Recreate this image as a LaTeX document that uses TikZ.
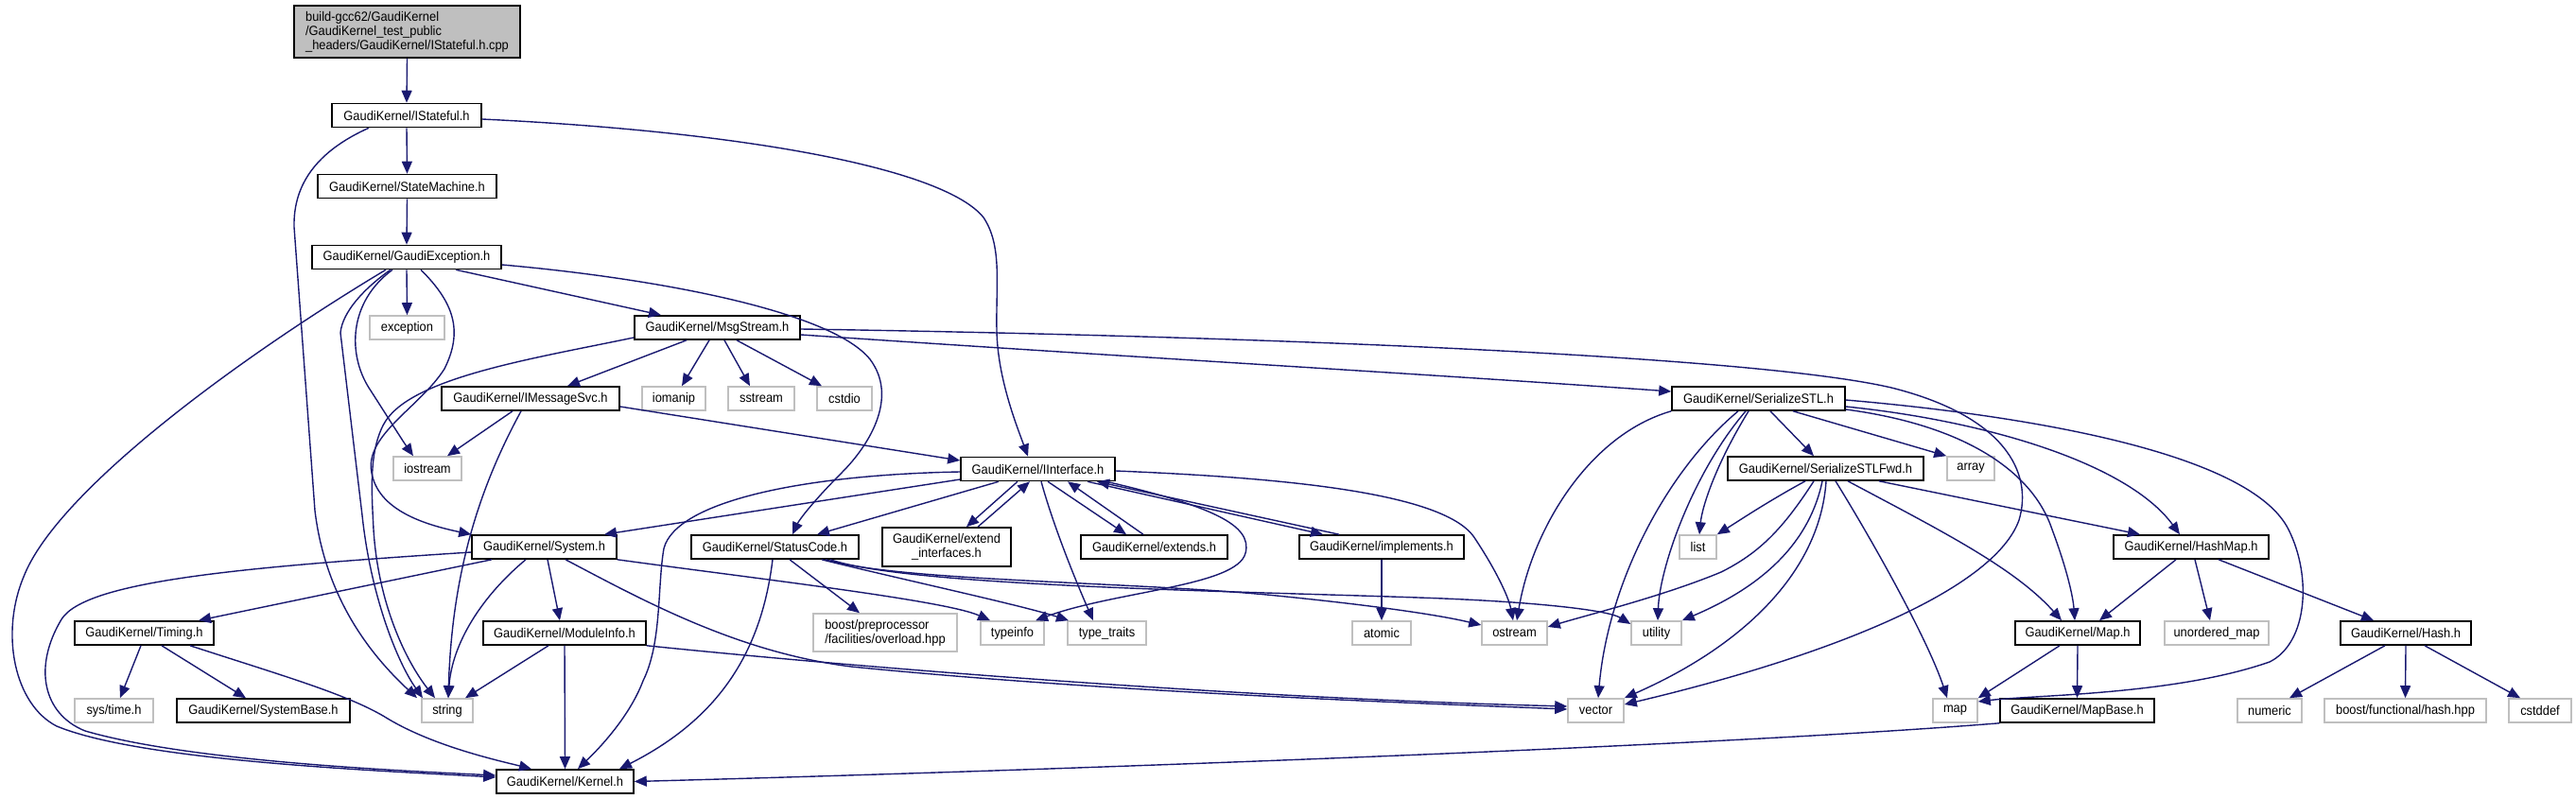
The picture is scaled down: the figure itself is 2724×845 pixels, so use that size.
\documentclass[tikz,border=0pt]{standalone}
\usepackage{fontspec}
\setmainfont{Liberation Sans}[FakeStretch=0.92]
\usetikzlibrary{arrows.meta}
\definecolor{grey75}{HTML}{BFBFBF}
\definecolor{midblue}{HTML}{191970}
\begin{document}
\begin{tikzpicture}[x=0.5pt,y=-0.5pt,
  nd/.style={draw, line width=0.8pt, inner sep=0pt, minimum height=12.5pt, font=\fontsize{7}{7.5}\selectfont, text=black},
  hdr/.style={nd, draw=black},
  sysh/.style={nd, draw=grey75},
  edge/.style={draw=midblue, line width=0.7pt, -{Triangle[length=6.5pt,width=5.5pt]}}]
\useasboundingbox (0,0) rectangle (2724,845);
% nodes
\node[hdr, fill=grey75, minimum width=119.5pt, minimum height=27.5pt, align=left] (top) at (430.5,33.5) {build-gcc62/GaudiKernel\\/GaudiKernel\_test\_public\\\_headers/GaudiKernel/IStateful.h.cpp};
\node[hdr, minimum width=79pt] (ist) at (430,122) {GaudiKernel/IStateful.h};
\node[hdr, minimum width=94.5pt] (sm) at (430.5,197) {GaudiKernel/StateMachine.h};
\node[hdr, minimum width=100pt] (gex) at (430,272) {GaudiKernel/GaudiException.h};
\node[sysh, minimum width=39.5pt] (exc) at (430.5,346.5) {exception};
\node[sysh, minimum width=36pt] (ios) at (452,495.5) {iostream};
\node[hdr, minimum width=94pt] (msv) at (561,421.5) {GaudiKernel/IMessageSvc.h};
\node[hdr, minimum width=87.5pt] (msg) at (758.5,346.5) {GaudiKernel/MsgStream.h};
\node[hdr, minimum width=76.5pt] (sys) at (575.5,578.5) {GaudiKernel/System.h};
\node[hdr, minimum width=73.5pt] (tim) at (152.5,669.5) {GaudiKernel/Timing.h};
\node[hdr, minimum width=86pt] (mod) at (597,669.5) {GaudiKernel/ModuleInfo.h};
\node[sysh, minimum width=41.5pt] (syt) at (120.5,751.5) {sys/time.h};
\node[hdr, minimum width=91.5pt] (sbase) at (278.5,751.5) {GaudiKernel/SystemBase.h};
\node[sysh, minimum width=27pt] (str) at (473,751.5) {string};
\node[hdr, minimum width=72.5pt] (ker) at (597.5,826.5) {GaudiKernel/Kernel.h};
\node[sysh, minimum width=33.5pt] (iom) at (712.5,421.5) {iomanip};
\node[sysh, minimum width=35pt] (sst) at (805,421.5) {sstream};
\node[sysh, minimum width=29pt] (csd) at (893,421.5) {cstdio};
\node[hdr, minimum width=81.5pt] (iif) at (1097.5,496) {GaudiKernel/IInterface.h};
\node[hdr, minimum width=88.5pt] (sc) at (819.5,578.5) {GaudiKernel/StatusCode.h};
\node[hdr, minimum width=68pt, minimum height=20.5pt, align=center] (exti) at (1001,578.5) {GaudiKernel/extend\\\_interfaces.h};
\node[hdr, minimum width=77.5pt] (ext) at (1220.5,578.5) {GaudiKernel/extends.h};
\node[sysh, minimum width=76pt, minimum height=20pt, align=left] (bpp) at (936,669) {boost/preprocessor\\/facilities/overload.hpp};
\node[sysh, minimum width=33.5pt] (tinfo) at (1070.5,669.5) {typeinfo};
\node[sysh, minimum width=41.5pt] (ttr) at (1170.5,669.5) {type\_traits};
\node[hdr, minimum width=87pt] (impl) at (1461,578.5) {GaudiKernel/implements.h};
\node[sysh, minimum width=31pt] (atom) at (1461,669.5) {atomic};
\node[sysh, minimum width=34.5pt] (ost) at (1601.5,669.5) {ostream};
\node[sysh, minimum width=26.5pt] (util) at (1751.5,669.5) {utility};
\node[sysh, minimum width=29.5pt] (vec) at (1687.5,751.5) {vector};
\node[sysh, minimum width=19.5pt] (lst) at (1795.5,578.5) {list};
\node[hdr, minimum width=91.5pt] (sstl) at (1859.5,421.5) {GaudiKernel/SerializeSTL.h};
\node[hdr, minimum width=103.5pt] (sfwd) at (1930.5,495.5) {GaudiKernel/SerializeSTLFwd.h};
\node[sysh, minimum width=25pt] (arr) at (2084,495.5) {array};
\node[hdr, minimum width=82pt] (hmap) at (2317,578.5) {GaudiKernel/HashMap.h};
\node[hdr, minimum width=66pt] (mapp) at (2197,669.5) {GaudiKernel/Map.h};
\node[sysh, minimum width=55pt] (umap) at (2344,669.5) {unordered\_map};
\node[hdr, minimum width=69pt] (hash) at (2544,669.5) {GaudiKernel/Hash.h};
\node[sysh, minimum width=23.5pt] (map) at (2067.5,751.5) {map};
\node[hdr, minimum width=81.5pt] (mbase) at (2196.5,751.5) {GaudiKernel/MapBase.h};
\node[sysh, minimum width=34pt] (num) at (2400,751.5) {numeric};
\node[sysh, minimum width=85.5pt] (bfh) at (2543.5,751.5) {boost/functional/hash.hpp};
\node[sysh, minimum width=33pt] (csdf) at (2686,751.5) {cstddef};
% edges
\draw[edge] (top.south) -- (ist.north);
\draw[edge] (ist.south) -- (sm.north);
\draw[edge] (ist.south -| 390,0) .. controls (335,160) and (310,195) .. (311,240) -- (333,540) .. controls (345,640) and (400,700) .. (str.north -| 441,0);
\draw[edge] (ist.east |- 0,126) .. controls (800,140) and (1000,180) .. (1040,230) .. controls (1060,260) and (1053,300) .. (1054,350) .. controls (1055,400) and (1075,450) .. (iif.north -| 1087,0);
\draw[edge] (sm.south) -- (gex.north);
\draw[edge] (gex.south) -- (exc.north);
\draw[edge] (gex.south -| 415,0) .. controls (368,320) and (368,375) .. (390,410) .. controls (401,427) and (425,465) .. (ios.north -| 437,0);
\draw[edge] (gex.south -| 413,0) .. controls (385,305) and (362,330) .. (360,352) -- (383,545) .. controls (392,630) and (420,700) .. (str.north -| 447,0);
\draw[edge] (gex.south -| 408,0) .. controls (250,380) and (60,520) .. (25,610) .. controls (0,670) and (15,745) .. (60,768) .. controls (150,805) and (400,815) .. (ker.west |- 0,822);
\draw[edge] (gex.south -| 482,0) -- (msg.north -| 699,0);
\draw[edge] (gex.east |- 0,280) .. controls (700,295) and (880,330) .. (920,380) .. controls (950,420) and (920,470) .. (890,500) .. controls (860,530) and (845,550) .. (sc.north -| 838,0);
\draw[edge] (gex.south -| 445,0) .. controls (480,320) and (490,350) .. (470,390) .. controls (445,430) and (385,460) .. (393,500) .. controls (400,540) and (450,555) .. (sys.north west);
\draw[edge] (msg.south -| 726,0) -- (msv.north -| 600,0);
\draw[edge] (msg.south -| 750,0) -- (iom.north -| 721,0);
\draw[edge] (msg.south -| 766,0) -- (sst.north -| 793,0);
\draw[edge] (msg.south -| 779,0) -- (csd.north -| 869,0);
\draw[edge] (msg.west |- 0,357) .. controls (560,380) and (430,400) .. (405,450) .. controls (390,480) and (393,520) .. (395,560) .. controls (400,640) and (430,700) .. (str.north -| 460,0);
\draw[edge] (msg.east |- 0,354) .. controls (1200,378) and (1500,395) .. (sstl.west |- 0,414);
\draw[edge] (msg.east |- 0,348) .. controls (1300,355) and (1850,375) .. (2000,410) .. controls (2120,440) and (2150,500) .. (2135,550) .. controls (2110,620) and (1950,690) .. (vec.east |- 0,745);
\draw[edge] (msv.south -| 542,0) -- (ios.north -| 473,0);
\draw[edge] (msv.south -| 551,0) .. controls (510,510) and (478,600) .. (str.north -| 474,0);
\draw[edge] (msv.east |- 0,430) -- (iif.west |- 0,487);
\draw[edge] (iif.west |- 0,507) -- (sys.north -| 639,0);
\draw[edge] (iif.west |- 0,499) .. controls (850,502) and (715,530) .. (702,580) .. controls (695,620) and (700,680) .. (680,720) .. controls (665,760) and (630,795) .. (ker.north -| 611,0);
\draw[edge] (iif.south -| 1056,0) -- (sc.north -| 864,0);
\draw[edge] (iif.south -| 1076,0) -- (exti.north -| 1022,0);
\draw[edge] (exti.north -| 1034,0) -- (iif.south -| 1089,0);
\draw[edge] (iif.south -| 1101,0) .. controls (1115,560) and (1140,620) .. (ttr.north -| 1156,0);
\draw[edge] (iif.south -| 1108,0) -- (ext.north -| 1191,0);
\draw[edge] (ext.north -| 1209,0) -- (iif.south -| 1129,0);
\draw[edge] (iif.south -| 1150,0) -- (impl.north -| 1399,0);
\draw[edge] (impl.north -| 1416,0) -- (iif.south -| 1160,0);
\draw[edge] (iif.south -| 1170,0) .. controls (1280,535) and (1325,555) .. (1317,585) .. controls (1308,620) and (1180,625) .. (tinfo.north -| 1095,0);
\draw[edge] (iif.east |- 0,498) .. controls (1350,505) and (1530,520) .. (1560,570) .. controls (1580,600) and (1595,630) .. (ost.north -| 1600,0);
\draw[edge] (sys.west |- 0,584) .. controls (250,600) and (90,615) .. (65,655) .. controls (35,705) and (45,755) .. (90,773) .. controls (200,805) and (420,815) .. (ker.west |- 0,820);
\draw[edge] (sys.south -| 520,0) -- (tim.north -| 210,0);
\draw[edge] (sys.south -| 556,0) .. controls (510,630) and (478,680) .. (str.north -| 474,0);
\draw[edge] (sys.south -| 579,0) -- (mod.north -| 592,0);
\draw[edge] (sys.south -| 598,0) .. controls (680,635) and (780,690) .. (900,705) .. controls (1150,730) and (1450,742) .. (vec.west |- 0,750);
\draw[edge] (sys.south east) .. controls (800,612) and (1000,635) .. (tinfo.north -| 1047,0);
\draw[edge] (tim.south -| 149,0) -- (syt.north -| 127,0);
\draw[edge] (tim.south -| 171,0) -- (sbase.north -| 260,0);
\draw[edge] (tim.south -| 201,0) .. controls (300,715) and (370,735) .. (410,760) .. controls (460,790) and (530,805) .. (ker.north -| 562,0);
\draw[edge] (mod.south -| 580,0) -- (str.north -| 492,0);
\draw[edge] (mod.south) -- (ker.north);
\draw[edge] (mod.south east) .. controls (900,705) and (1300,738) .. (vec.west |- 0,747);
\draw[edge] (sc.south -| 835,0) -- (bpp.north -| 909,0);
\draw[edge] (sc.south -| 869,0) .. controls (950,612) and (1080,640) .. (ttr.north -| 1130,0);
\draw[edge] (sc.south -| 873,0) .. controls (950,615) and (1200,615) .. (1350,630) .. controls (1450,640) and (1520,650) .. (ost.west |- 0,661);
\draw[edge] (sc.south -| 878,0) .. controls (960,620) and (1300,625) .. (1500,632) .. controls (1620,636) and (1700,645) .. (util.west |- 0,660);
\draw[edge] (sc.south -| 817,0) .. controls (805,690) and (760,760) .. (ker.north -| 655,0);
\draw[edge] (impl.south) -- (atom.north);
\draw[edge] (sstl.south -| 1872,0) -- (sfwd.north -| 1918,0);
\draw[edge] (sstl.south -| 1896,0) -- (arr.north west);
\draw[edge] (sstl.south -| 1849,0) .. controls (1815,490) and (1800,535) .. (lst.north -| 1797,0);
\draw[edge] (sstl.south -| 1846,0) .. controls (1790,500) and (1755,600) .. (util.north -| 1753,0);
\draw[edge] (sstl.south -| 1838,0) .. controls (1760,500) and (1700,620) .. (vec.north -| 1690,0);
\draw[edge] (sstl.south west) .. controls (1680,460) and (1620,560) .. (ost.north -| 1604,0);
\draw[edge] (sstl.east |- 0,430) .. controls (2100,445) and (2250,490) .. (hmap.north -| 2305,0);
\draw[edge] (sstl.east |- 0,433) .. controls (2080,450) and (2150,500) .. (2170,560) .. controls (2185,600) and (2192,630) .. (mapp.north -| 2194,0);
\draw[edge] (sstl.east |- 0,423) .. controls (2150,440) and (2380,480) .. (2420,560) .. controls (2445,610) and (2440,680) .. (2400,700) .. controls (2300,735) and (2150,735) .. (map.east |- 0,742);
\draw[edge] (sfwd.south -| 1909,0) .. controls (1870,530) and (1840,550) .. (lst.north east);
\draw[edge] (sfwd.south -| 1918,0) .. controls (1885,560) and (1860,585) .. (1820,605) .. controls (1760,630) and (1680,650) .. (ost.east |- 0,663);
\draw[edge] (sfwd.south -| 1927,0) .. controls (1910,590) and (1840,630) .. (util.north east);
\draw[edge] (sfwd.south -| 1931,0) .. controls (1925,600) and (1850,680) .. (vec.north east);
\draw[edge] (sfwd.south -| 1941,0) .. controls (1985,580) and (2040,680) .. (map.north -| 2059,0);
\draw[edge] (sfwd.south -| 1954,0) .. controls (2050,560) and (2130,600) .. (mapp.north -| 2180,0);
\draw[edge] (sfwd.south -| 1987,0) -- (hmap.north -| 2263,0);
\draw[edge] (hmap.south -| 2301,0) -- (mapp.north -| 2220,0);
\draw[edge] (hmap.south -| 2321,0) -- (umap.north -| 2337,0);
\draw[edge] (hmap.south -| 2346,0) -- (hash.north -| 2510,0);
\draw[edge] (mapp.south -| 2178,0) -- (map.north east);
\draw[edge] (mapp.south) -- (mbase.north);
\draw[edge] (mbase.south west) .. controls (1800,790) and (1100,815) .. (ker.east);
\draw[edge] (hash.south -| 2522,0) -- (num.north -| 2421,0);
\draw[edge] (hash.south) -- (bfh.north);
\draw[edge] (hash.south -| 2564,0) -- (csdf.north -| 2665,0);
\end{tikzpicture}
\end{document}
